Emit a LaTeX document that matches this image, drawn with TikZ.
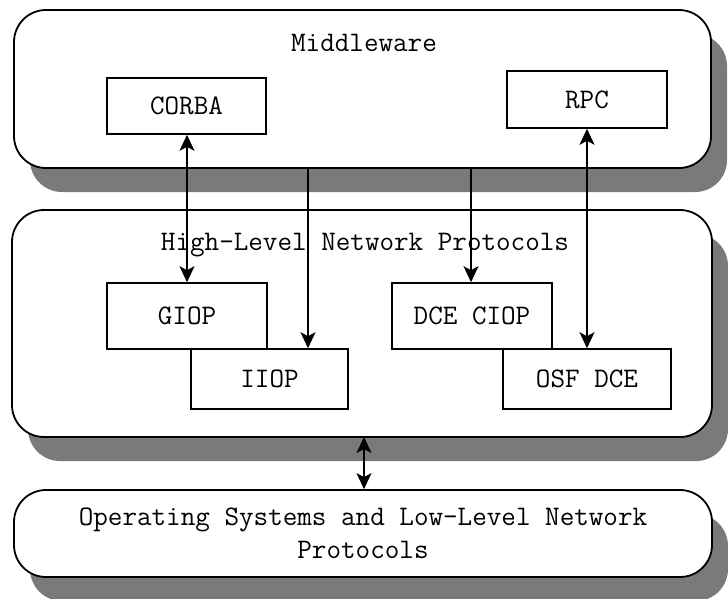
\documentclass[tikz,border=0pt]{standalone}
\usepackage{fontspec}
\usetikzlibrary{arrows.meta,shadows}
\begin{document}
\begin{tikzpicture}[x=1pt,y=-1pt,
  lbl/.style={font=\ttfamily\fontsize{28.3}{33}\selectfont},
  layer/.style={draw=black, line width=1.8pt, fill=white, rounded corners=32pt, inner sep=0pt,
    drop shadow={shadow xshift=16pt, shadow yshift=-24pt, fill=black!52, opacity=1}},
  proto/.style={draw=black, line width=1.6pt, fill=white, inner sep=0pt, lbl},
  conn/.style={line width=1.6pt, -{Stealth[length=16pt,width=15pt,inset=4pt]}},
  bconn/.style={line width=1.6pt, {Stealth[length=16pt,width=15pt,inset=4pt]}-{Stealth[length=16pt,width=15pt,inset=4pt]}}]
\useasboundingbox (0,0) rectangle (728,598);
% layers
\node[layer, minimum width=697pt, minimum height=158pt] (mw) at (362.5,89) {};
\node[layer, minimum width=700pt, minimum height=227pt] (hl) at (362,323.5) {};
\node[layer, minimum width=698pt, minimum height=87pt, lbl, align=center] (os) at (363,533.5)
  {Operating Systems and Low-Level Network\\Protocols};
% titles
\node[lbl] (mwtitle) at (364,43) {Middleware};
\node[lbl] (hltitle) at (365,245) {High-Level Network Protocols};
% inner boxes
\node[proto, minimum width=159pt, minimum height=56pt] (corba) at (186.5,106) {CORBA};
\node[proto, minimum width=160pt, minimum height=57pt] (rpc) at (587,99.5) {RPC};
\node[proto, minimum width=160pt, minimum height=66pt] (giop) at (187,316) {GIOP};
\node[proto, minimum width=157pt, minimum height=60pt] (iiop) at (269.5,379) {IIOP};
\node[proto, minimum width=160pt, minimum height=66pt] (dce) at (472,316) {DCE CIOP};
\node[proto, minimum width=168pt, minimum height=60pt] (osf) at (587,379) {OSF DCE};
% connector anchors
\coordinate (m1) at (308,168);
\coordinate (m2) at (471,168);
\coordinate (h1) at (364,437);
% connectors
\draw[bconn] (corba.south -| giop.north) -- (giop.north);
\draw[conn] (m1) -- (iiop.north -| m1);
\draw[conn] (m2) -- (dce.north -| m2);
\draw[bconn] (rpc.south) -- (osf.north -| rpc.south);
\draw[bconn] (h1) -- (os.north -| h1);
\end{tikzpicture}
\end{document}
